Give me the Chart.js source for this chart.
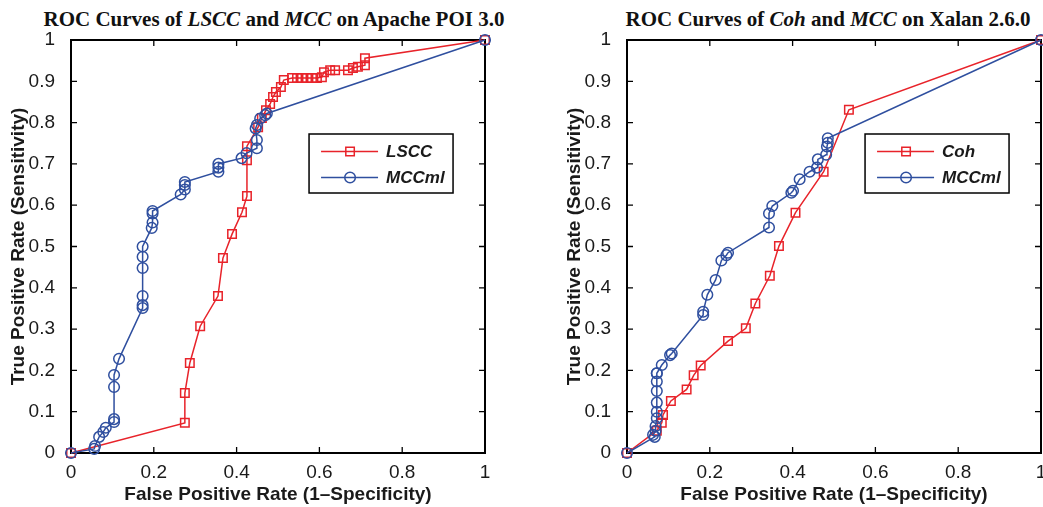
<!DOCTYPE html>
<html><head><meta charset="utf-8">
<script src="https://cdn.jsdelivr.net/npm/chart.js@4.4.0/dist/chart.umd.min.js"></script>
<style>
html,body{margin:0;padding:0;background:#fff;overflow:hidden;width:1043px;height:507px;position:relative;}
canvas{position:absolute;top:0;}
.title{position:absolute;top:9px;font-family:"Liberation Serif","Times New Roman",serif;font-weight:bold;font-size:21px;line-height:1;white-space:nowrap;transform:translateX(-50%);color:#111;}
</style></head>
<body>
<div class="title" style="left:274px">ROC Curves of <i>LSCC</i> and <i>MCC</i> on Apache POI 3.0</div>
<div class="title" style="left:828px">ROC Curves of <i>Coh</i> and <i>MCC</i> on Xalan 2.6.0</div>
<canvas id="c1" width="521" height="507" style="left:0"></canvas>
<canvas id="c2" width="530" height="507" style="left:521px"></canvas>
<script>
// ---- data ----
const xTicks = [0, 0.2, 0.4, 0.6, 0.8, 1];
const xTickLabels = ['0', '0.2', '0.4', '0.6', '0.8', '1'];
const yTicks = [0, 0.1, 0.2, 0.3, 0.4, 0.5, 0.6, 0.7, 0.8, 0.9, 1];
const yTickLabels = ['0', '0.1', '0.2', '0.3', '0.4', '0.5', '0.6', '0.7', '0.8', '0.9', '1'];

const poiLsccX = [0, 0.275, 0.275, 0.287, 0.312, 0.355, 0.367, 0.389, 0.413, 0.425, 0.425, 0.425, 0.452, 0.461, 0.471, 0.481, 0.488, 0.495, 0.507, 0.514, 0.534, 0.546, 0.558, 0.570, 0.582, 0.594, 0.606, 0.611, 0.626, 0.638, 0.669, 0.681, 0.693, 0.710, 0.710, 1];
const poiLsccY = [0, 0.073, 0.145, 0.218, 0.307, 0.380, 0.472, 0.530, 0.583, 0.622, 0.709, 0.743, 0.789, 0.811, 0.830, 0.845, 0.862, 0.874, 0.886, 0.903, 0.908, 0.908, 0.908, 0.908, 0.908, 0.908, 0.910, 0.922, 0.927, 0.927, 0.927, 0.932, 0.935, 0.939, 0.956, 1];

const poiMccX = [0, 0.056, 0.058, 0.068, 0.078, 0.084, 0.104, 0.104, 0.104, 0.104, 0.116, 0.173, 0.173, 0.173, 0.173, 0.173, 0.173, 0.195, 0.197, 0.197, 0.197, 0.265, 0.275, 0.275, 0.275, 0.356, 0.356, 0.356, 0.412, 0.424, 0.449, 0.449, 0.446, 0.449, 0.457, 0.469, 0.473, 1];
const poiMccY = [0, 0.010, 0.017, 0.039, 0.051, 0.061, 0.075, 0.082, 0.160, 0.189, 0.228, 0.351, 0.358, 0.380, 0.448, 0.475, 0.500, 0.545, 0.558, 0.580, 0.586, 0.626, 0.638, 0.649, 0.656, 0.681, 0.691, 0.700, 0.714, 0.726, 0.738, 0.758, 0.786, 0.794, 0.810, 0.818, 0.822, 1];

const xalanCohX = [0, 0.072, 0.084, 0.087, 0.106, 0.144, 0.161, 0.178, 0.244, 0.287, 0.310, 0.345, 0.367, 0.407, 0.475, 0.536, 1];
const xalanCohY = [0, 0.054, 0.073, 0.092, 0.126, 0.154, 0.188, 0.212, 0.271, 0.302, 0.362, 0.429, 0.501, 0.582, 0.681, 0.831, 1];

const xalanMccX = [0, 0.067, 0.063, 0.069, 0.069, 0.072, 0.072, 0.072, 0.072, 0.072, 0.072, 0.072, 0.084, 0.104, 0.108, 0.184, 0.184, 0.194, 0.214, 0.228, 0.240, 0.244, 0.343, 0.343, 0.351, 0.397, 0.401, 0.417, 0.441, 0.459, 0.461, 0.481, 0.483, 0.485, 0.485, 1];
const xalanMccY = [0, 0.039, 0.044, 0.054, 0.065, 0.084, 0.100, 0.122, 0.150, 0.173, 0.193, 0.193, 0.213, 0.237, 0.241, 0.334, 0.342, 0.383, 0.419, 0.466, 0.479, 0.485, 0.546, 0.580, 0.598, 0.630, 0.635, 0.663, 0.681, 0.691, 0.711, 0.722, 0.742, 0.751, 0.762, 1];

// ---- styles ----
const RED = '#e8232a';
const BLUE = '#2f4f9f';
const TEXT = '#1a1a1a';
const SANS = '"Liberation Sans", Arial, Helvetica, sans-serif';

function pts(xs, ys) { return xs.map((x, i) => ({x: x, y: ys[i]})); }

const framePlugin = {
  id: 'frame',
  beforeDatasetsDraw(chart) {
    const {ctx, chartArea: a, scales: {x, y}} = chart;
    ctx.save();
    ctx.strokeStyle = '#000';
    ctx.lineWidth = 1.3;
    const L = 6;
    ctx.beginPath();
    xTicks.forEach(v => {
      const px = x.getPixelForValue(v);
      ctx.moveTo(px, a.bottom); ctx.lineTo(px, a.bottom - L);
      ctx.moveTo(px, a.top); ctx.lineTo(px, a.top + L);
    });
    yTicks.forEach(v => {
      const py = y.getPixelForValue(v);
      ctx.moveTo(a.left, py); ctx.lineTo(a.left + L, py);
      ctx.moveTo(a.right, py); ctx.lineTo(a.right - L, py);
    });
    ctx.stroke();
    ctx.lineWidth = 2;
    ctx.strokeRect(a.left, a.top, a.right - a.left, a.bottom - a.top);
    ctx.restore();
  }
};

const boxLegendPlugin = {
  id: 'boxLegend',
  afterDatasetsDraw(chart) {
    const {ctx, chartArea: a} = chart;
    const w = a.right - a.left;
    const bx = a.left + 0.575 * w, by = a.top + 94, bw = 144, bh = 59;
    ctx.save();
    ctx.fillStyle = '#fff';
    ctx.fillRect(bx, by, bw, bh);
    ctx.strokeStyle = '#000';
    ctx.lineWidth = 1.5;
    ctx.strokeRect(bx, by, bw, bh);
    chart.data.datasets.forEach((ds, i) => {
      const cy = by + 17.5 + i * 26;
      ctx.strokeStyle = ds.borderColor;
      ctx.lineWidth = ds.borderWidth;
      ctx.beginPath();
      ctx.moveTo(bx + 12, cy); ctx.lineTo(bx + 69, cy);
      ctx.stroke();
      ctx.fillStyle = 'rgba(0,0,0,0)';
      ctx.lineWidth = ds.pointBorderWidth;
      Chart.helpers.drawPoint(ctx, {pointStyle: ds.pointStyle, radius: ds.pointRadius, borderWidth: ds.pointBorderWidth, rotation: 0}, bx + 41, cy);
      ctx.fillStyle = TEXT;
      ctx.font = 'italic bold 17px ' + SANS;
      ctx.textBaseline = 'middle';
      ctx.textAlign = 'left';
      ctx.fillText(ds.label, bx + 77, cy + 1);
    });
    ctx.restore();
  }
};

function makeChart(id, padLeft, padRight, s1, s2) {
  const ds = (lab, data, color, style, r, order) => ({
    label: lab, data: data, borderColor: color, backgroundColor: 'rgba(0,0,0,0)',
    pointBackgroundColor: 'rgba(0,0,0,0)', pointBorderColor: color,
    pointStyle: style, pointRadius: r, pointBorderWidth: 1.5, borderWidth: 1.5,
    showLine: true, tension: 0, clip: false, order: order
  });
  return new Chart(document.getElementById(id), {
    type: 'scatter',
    data: {datasets: [
      ds(s1.label, s1.data, RED, 'rect', 6, 1),
      ds(s2.label, s2.data, BLUE, 'circle', 5.3, 0)
    ]},
    options: {
      responsive: false, animation: false, devicePixelRatio: 1, events: [],
      layout: {padding: {left: padLeft, right: padRight, top: 40, bottom: 0}},
      plugins: {legend: {display: false}, tooltip: {enabled: false}},
      scales: {
        x: {
          type: 'linear', min: 0, max: 1,
          afterBuildTicks(s) { s.ticks = xTicks.map(v => ({value: v})); },
          afterFit(s) { s.height = 54; },
          ticks: {autoSkip: false, maxRotation: 0, padding: 0, color: TEXT,
            font: {family: SANS, size: 19}, callback: (v, i) => xTickLabels[i]},
          grid: {display: false}, border: {display: false},
          title: {display: true, text: 'False Positive Rate (1–Specificity)', color: TEXT,
            font: {family: SANS, size: 19, weight: 'bold'}, padding: {top: 0, bottom: 1}}
        },
        y: {
          type: 'linear', min: 0, max: 1,
          afterBuildTicks(s) { s.ticks = yTicks.map(v => ({value: v})); },
          afterFit(s) { s.width = 71; },
          ticks: {autoSkip: false, padding: 8, color: TEXT,
            font: {family: SANS, size: 19}, callback: (v, i) => yTickLabels[i]},
          grid: {display: false}, border: {display: false},
          title: {display: true, text: 'True Positive Rate (Sensitivity)', color: TEXT,
            font: {family: SANS, size: 19, weight: 'bold'}, padding: {top: 7, bottom: 0}}
        }
      }
    },
    plugins: [framePlugin, boxLegendPlugin]
  });
}

makeChart('c1', 0, 36,
  {label: 'LSCC', data: pts(poiLsccX, poiLsccY)},
  {label: 'MCCml', data: pts(poiMccX, poiMccY)});
makeChart('c2', 35, 10,
  {label: 'Coh', data: pts(xalanCohX, xalanCohY)},
  {label: 'MCCml', data: pts(xalanMccX, xalanMccY)});
</script>
</body></html>
